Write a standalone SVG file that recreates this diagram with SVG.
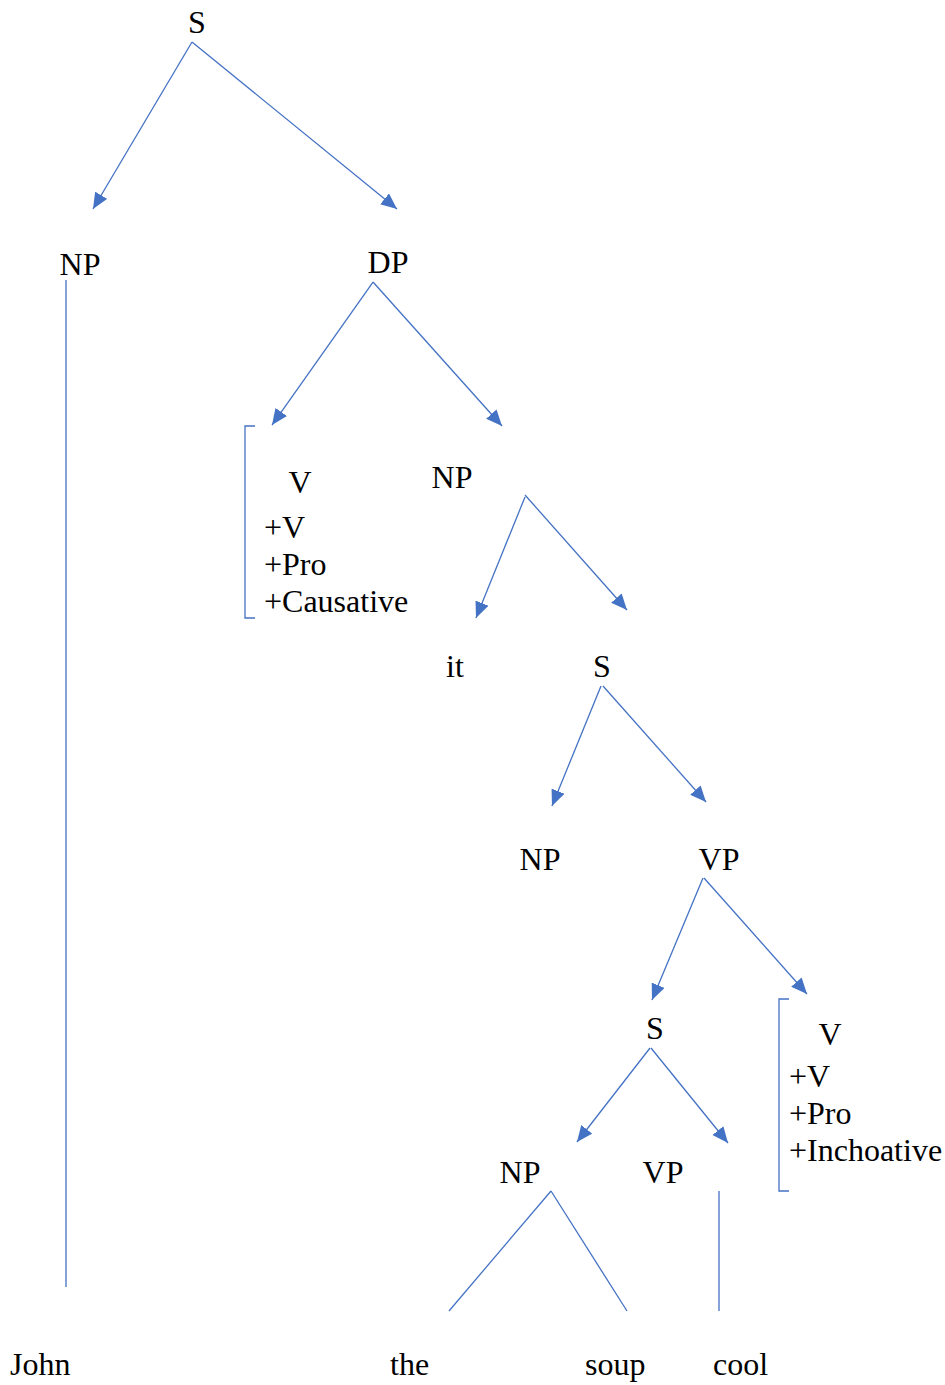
<svg xmlns="http://www.w3.org/2000/svg" width="945" height="1385" viewBox="0 0 945 1385">
<style>
text{font-family:"Liberation Serif","Times New Roman",serif;font-size:32px;fill:#000}
.e{stroke:#4472C4;stroke-width:1.3;fill:none}
.a{marker-end:url(#ah)}
</style>
<defs>
<marker id="ah" markerUnits="userSpaceOnUse" markerWidth="16" markerHeight="14" viewBox="0 0 16 14" refX="16" refY="7" orient="auto">
<path d="M0,0 L16,7 L0,14 Z" fill="#4472C4"/>
</marker>
</defs>
<rect width="945" height="1385" fill="#fff"/>
<g id="connectors">
<line class="e a" x1="192" y1="42" x2="93" y2="209"/>
<line class="e a" x1="192" y1="42" x2="397" y2="209"/>
<line class="e" x1="66" y1="280" x2="66" y2="1287"/>
<line class="e a" x1="373" y1="282" x2="272" y2="425"/>
<line class="e a" x1="373" y1="282" x2="502" y2="426"/>
<line class="e a" x1="525" y1="497" x2="476" y2="618"/>
<line class="e a" x1="525" y1="495" x2="627" y2="610"/>
<line class="e a" x1="601" y1="686" x2="552" y2="806"/>
<line class="e a" x1="603" y1="686" x2="706" y2="802"/>
<line class="e a" x1="703" y1="878" x2="652" y2="1000"/>
<line class="e a" x1="704" y1="878" x2="807" y2="994"/>
<line class="e a" x1="650" y1="1048" x2="577" y2="1142"/>
<line class="e a" x1="651" y1="1048" x2="728" y2="1143"/>
<line class="e" x1="551" y1="1191" x2="449" y2="1311"/>
<line class="e" x1="551" y1="1191" x2="627" y2="1311"/>
<line class="e" x1="719" y1="1191" x2="719" y2="1311"/>
</g>
<g id="S1"><text x="197" y="33" text-anchor="middle">S</text></g>
<g id="NP1"><text x="80" y="275" text-anchor="middle">NP</text></g>
<g id="DP"><text x="388" y="273" text-anchor="middle">DP</text></g>
<g id="V1">
<path class="e" d="M255,426 H245 V618 H255"/>
<text x="300" y="493" text-anchor="middle">V</text>
<text x="264" y="538">+V</text>
<text x="264" y="575">+Pro</text>
<text x="264" y="612">+Causative</text>
</g>
<g id="NP2"><text x="452" y="488" text-anchor="middle">NP</text></g>
<g id="it"><text x="455" y="677" text-anchor="middle">it</text></g>
<g id="S2"><text x="602" y="677" text-anchor="middle">S</text></g>
<g id="NP3"><text x="540" y="870" text-anchor="middle">NP</text></g>
<g id="VP1"><text x="719" y="870" text-anchor="middle">VP</text></g>
<g id="S3"><text x="655" y="1039" text-anchor="middle">S</text></g>
<g id="V2">
<path class="e" d="M789,999 H779 V1191 H789"/>
<text x="830" y="1045" text-anchor="middle">V</text>
<text x="789" y="1087">+V</text>
<text x="789" y="1124">+Pro</text>
<text x="789" y="1161">+Inchoative</text>
</g>
<g id="NP4"><text x="520" y="1183" text-anchor="middle">NP</text></g>
<g id="VP2"><text x="663" y="1183" text-anchor="middle">VP</text></g>
<g id="John"><text x="10" y="1375">John</text></g>
<g id="the"><text x="390" y="1375">the</text></g>
<g id="soup"><text x="585" y="1375">soup</text></g>
<g id="cool"><text x="713" y="1375">cool</text></g>
</svg>
